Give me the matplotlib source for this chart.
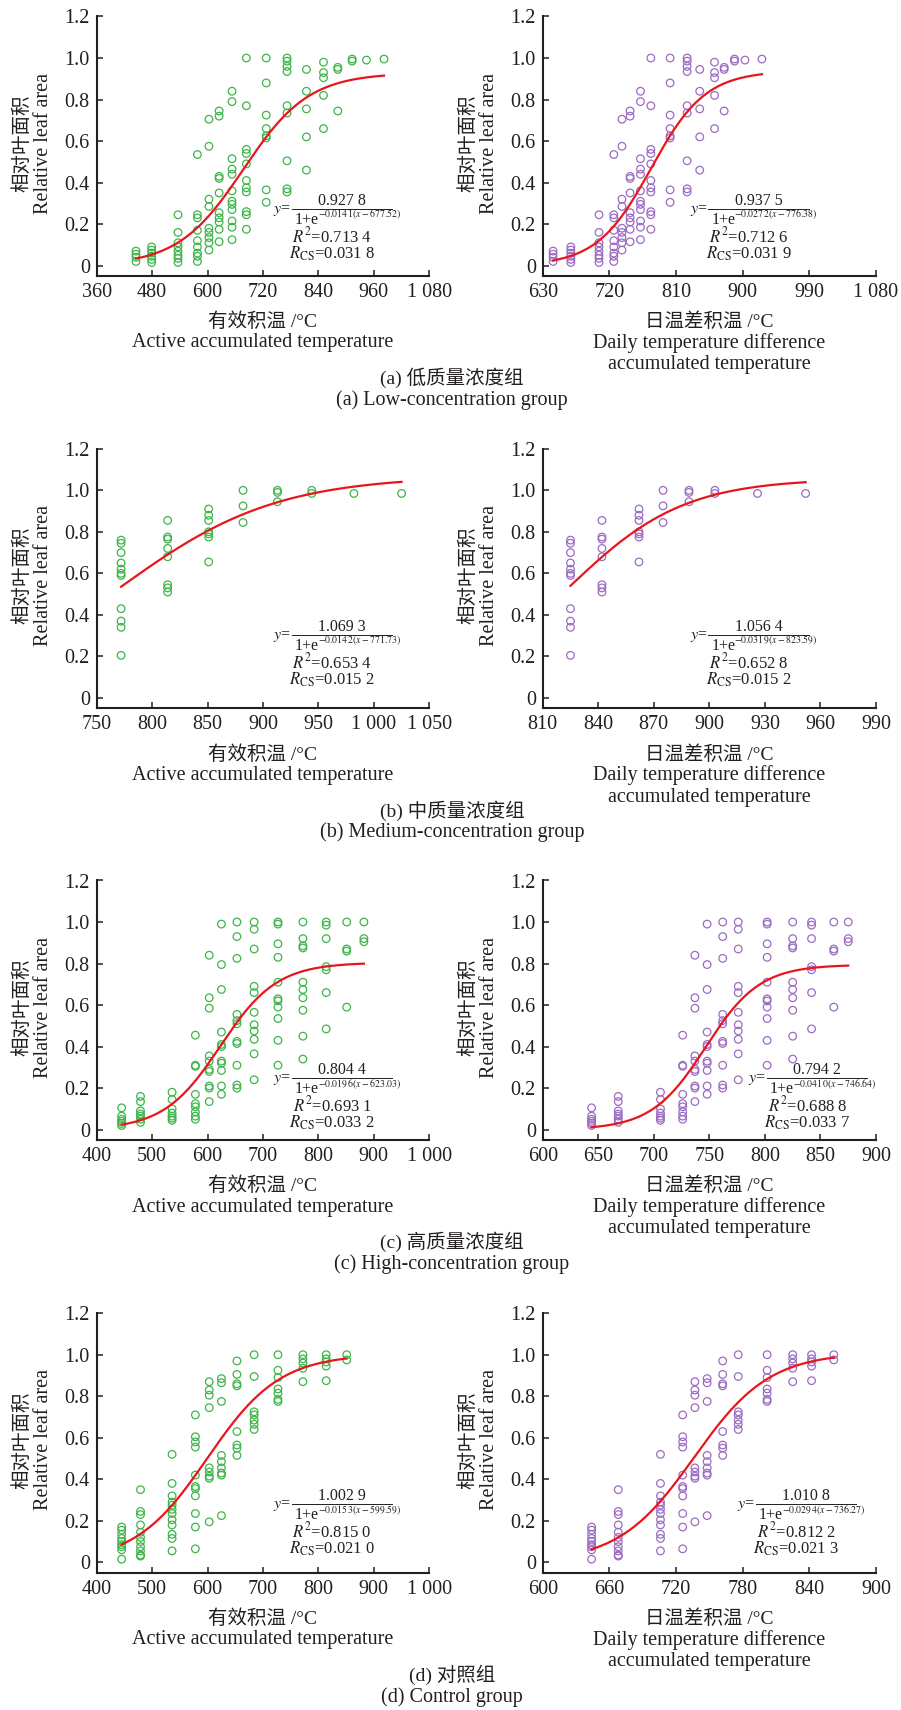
import numpy as np
import matplotlib
matplotlib.use("Agg")
import matplotlib.pyplot as plt
from matplotlib.lines import Line2D

plt.rcParams['font.family'] = ['Liberation Serif', 'Noto Sans CJK SC']
plt.rcParams['mathtext.fontset'] = 'stix'

# ---------------- data ----------------
active_cols = [445, 479, 536, 578, 603, 625, 653, 684, 727, 772, 814, 851, 882, 913, 944, 982, 1025]
diff_cols = [644, 668, 706, 726, 737, 748, 762, 776, 802, 825, 842, 862, 875, 889, 903, 926, 952]

low_y = [
    [0.07, 0.055, 0.04, 0.02],
    [0.09, 0.075, 0.06, 0.045, 0.03, 0.015],
    [0.245, 0.16, 0.11, 0.09, 0.07, 0.05, 0.035, 0.015],
    [0.535, 0.245, 0.23, 0.17, 0.12, 0.09, 0.06, 0.045, 0.02],
    [0.705, 0.575, 0.32, 0.285, 0.18, 0.16, 0.135, 0.11, 0.075],
    [0.745, 0.72, 0.43, 0.42, 0.35, 0.255, 0.23, 0.21, 0.175, 0.115],
    [0.84, 0.79, 0.515, 0.465, 0.44, 0.36, 0.31, 0.295, 0.27, 0.215, 0.185, 0.125],
    [1.0, 0.77, 0.56, 0.54, 0.49, 0.41, 0.375, 0.355, 0.26, 0.245, 0.175],
    [1.0, 0.88, 0.725, 0.66, 0.625, 0.615, 0.365, 0.305],
    [1.0, 0.985, 0.96, 0.935, 0.77, 0.735, 0.505, 0.37, 0.355],
    [0.945, 0.84, 0.755, 0.62, 0.46],
    [0.98, 0.93, 0.905, 0.82, 0.66],
    [0.955, 0.945, 0.745],
    [0.995, 0.985],
    [0.99],
    [0.995],
]
medium_y = [
    [0.76, 0.745, 0.70, 0.65, 0.62, 0.60, 0.59, 0.43, 0.37, 0.34, 0.205],
    [0.855, 0.775, 0.765, 0.72, 0.68, 0.545, 0.53, 0.51],
    [0.91, 0.88, 0.855, 0.80, 0.79, 0.775, 0.655],
    [1.0, 0.925, 0.845],
    [1.0, 0.99, 0.945],
    [1.0, 0.985],
    [0.985],
    [0.985],
]
high_y = [
    [0.105, 0.065, 0.05, 0.04, 0.03, 0.02],
    [0.16, 0.135, 0.09, 0.075, 0.065, 0.05, 0.035],
    [0.18, 0.145, 0.10, 0.08, 0.065, 0.055, 0.045],
    [0.455, 0.31, 0.305, 0.17, 0.125, 0.11, 0.085, 0.065, 0.05],
    [0.84, 0.635, 0.585, 0.355, 0.33, 0.29, 0.28, 0.21, 0.2, 0.135],
    [0.99, 0.795, 0.675, 0.47, 0.41, 0.40, 0.33, 0.32, 0.285, 0.21, 0.17],
    [1.0, 0.93, 0.825, 0.555, 0.525, 0.51, 0.425, 0.415, 0.31, 0.215, 0.2],
    [1.0, 0.965, 0.87, 0.69, 0.66, 0.565, 0.505, 0.475, 0.435, 0.365, 0.24],
    [1.0, 0.99, 0.895, 0.83, 0.71, 0.63, 0.62, 0.59, 0.535, 0.43, 0.31],
    [1.0, 0.92, 0.885, 0.875, 0.71, 0.675, 0.635, 0.575, 0.45, 0.34],
    [1.0, 0.985, 0.92, 0.785, 0.77, 0.66, 0.485],
    [1.0, 0.87, 0.86, 0.59],
    [1.0, 0.92, 0.905],
]
control_y = [
    [0.17, 0.155, 0.135, 0.115, 0.10, 0.085, 0.075, 0.06, 0.015],
    [0.35, 0.245, 0.23, 0.18, 0.145, 0.12, 0.10, 0.075, 0.055, 0.035, 0.03],
    [0.52, 0.38, 0.32, 0.29, 0.275, 0.255, 0.235, 0.205, 0.18, 0.135, 0.115, 0.055],
    [0.71, 0.605, 0.58, 0.555, 0.42, 0.365, 0.355, 0.32, 0.235, 0.17, 0.065],
    [0.87, 0.83, 0.805, 0.745, 0.455, 0.435, 0.415, 0.405, 0.195],
    [0.885, 0.865, 0.775, 0.515, 0.485, 0.455, 0.43, 0.42, 0.225],
    [0.97, 0.905, 0.86, 0.85, 0.63, 0.565, 0.55, 0.515],
    [1.0, 0.895, 0.725, 0.71, 0.685, 0.665, 0.64],
    [1.0, 0.925, 0.89, 0.835, 0.815, 0.785, 0.775],
    [1.0, 0.98, 0.96, 0.935, 0.87],
    [1.0, 0.98, 0.965, 0.945, 0.875],
    [1.0, 0.975],
]
group_y = [low_y, medium_y, high_y, control_y]
group_first_col = [0, 9, 0, 0]

# fit parameters: (A, k, c, R2, RCS, A text, k text, c text)
fit_active = [
    (0.9278, 0.0141, 677.52, "0.713 4", "0.031 8", "0.927 8", "0.014\\,1", "677.52"),
    (1.0693, 0.0142, 771.73, "0.653 4", "0.015 2", "1.069 3", "0.014\\,2", "771.73"),
    (0.8044, 0.0196, 623.03, "0.693 1", "0.033 2", "0.804 4", "0.019\\,6", "623.03"),
    (1.0029, 0.0153, 599.59, "0.815 0", "0.021 0", "1.002 9", "0.015\\,3", "599.59"),
]
fit_diff = [
    (0.9375, 0.0272, 776.38, "0.712 6", "0.031 9", "0.937 5", "0.027\\,2", "776.38"),
    (1.0564, 0.0319, 823.59, "0.652 8", "0.015 2", "1.056 4", "0.031\\,9", "823.59"),
    (0.7942, 0.0410, 746.64, "0.688 8", "0.033 7", "0.794 2", "0.041\\,0", "746.64"),
    (1.0108, 0.0294, 736.27, "0.812 2", "0.021 3", "1.010 8", "0.029\\,4", "736.27"),
]

active_ticks = [list(range(360, 1081, 120)), list(range(750, 1051, 50)),
                list(range(400, 1001, 100)), list(range(400, 1001, 100))]
diff_ticks = [list(range(630, 1081, 90)), list(range(810, 991, 30)),
              list(range(600, 901, 50)), list(range(600, 901, 60))]
yticks = [0, 0.2, 0.4, 0.6, 0.8, 1.0, 1.2]
ytick_labels = ["0", "0.2", "0.4", "0.6", "0.8", "1.0", "1.2"]

captions_cn = ["(a) 低质量浓度组", "(b) 中质量浓度组", "(c) 高质量浓度组", "(d) 对照组"]
captions_en = ["(a) Low-concentration group", "(b) Medium-concentration group",
               "(c) High-concentration group", "(d) Control group"]

# ---------------- layout (pixels) ----------------
W, H = 901, 1710
fig = plt.figure(figsize=(W / 100, H / 100), dpi=100)

def fx(px):
    return px / W

def fy(py):
    return 1 - py / H

row_bottom = [276, 708.3, 1140, 1572.7]
ax_h = 259.5
col_x = [(96.7, 429.3), (542.7, 876.0)]
annot_pos = [
    [(292, 392, 209), (708.3, 809.3, 209)],
    [(291.7, 391.7, 635), (708.3, 809.3, 635)],
    [(291.7, 391.7, 1078.3), (766.7, 867.3, 1078.3)],
    [(291.7, 391.7, 1504.3), (755.7, 856, 1504.3)],
]

GREEN = '#3db54a'
PURPLE = '#9b6cc2'
RED = '#e8161c'
TXT = '#231f20'
AFS = 11.5

def fmt_tick(v):
    if v >= 1000:
        return "%d %03d" % (v // 1000, v % 1000)
    return str(v)

def annotate(xa, xb, yl, p):
    A, k, c, r2, rcs, a_str, k_str, c_str = p
    mid = (xa + xb) / 2
    fig.add_artist(Line2D([fx(xa), fx(xb)], [fy(yl), fy(yl)], transform=fig.transFigure,
                          color=TXT, lw=0.7))
    fig.text(fx(xa - 1), fy(yl + 1), r"$y$=", ha='right', va='center', fontsize=AFS, color=TXT)
    fig.text(fx(mid), fy(yl - 8), a_str, ha='center', va='center', fontsize=AFS, color=TXT)
    fig.text(fx(xa + 3), fy(yl + 10.5), "1+e", ha='left', va='center', fontsize=AFS, color=TXT)
    fig.text(fx(xa + 26), fy(yl + 5.5), r"$-%s(x-%s)$" % (k_str, c_str),
             ha='left', va='center', fontsize=7, color=TXT)
    fig.text(fx(mid - 9.5), fy(yl + 27.5), r"$R^{2}$=" + r2, ha='center', va='center',
             fontsize=12, color=TXT)
    fig.text(fx(mid - 9.5), fy(yl + 44.5), r"$R_{\mathrm{CS}}$=" + rcs, ha='center', va='center',
             fontsize=12, color=TXT)

for r in range(4):
    yb = row_bottom[r]
    ys = group_y[r]
    c0 = group_first_col[r]
    for side in range(2):
        x0, x1 = col_x[side]
        ax = fig.add_axes([fx(x0), fy(yb), (x1 - x0) / W, ax_h / H])
        cols = active_cols if side == 0 else diff_cols
        ticks = active_ticks[r] if side == 0 else diff_ticks[r]
        fit = fit_active[r] if side == 0 else fit_diff[r]
        color = GREEN if side == 0 else PURPLE

        xs_pts, ys_pts = [], []
        for j, colvals in enumerate(ys):
            for v in colvals:
                xs_pts.append(cols[c0 + j])
                ys_pts.append(v)
        ax.scatter(xs_pts, ys_pts, s=30, facecolors='none', edgecolors=color,
                   linewidths=0.9, zorder=2)

        A, k, c = fit[0], fit[1], fit[2]
        xx = np.linspace(cols[c0], cols[c0 + len(ys) - 1], 300)
        ax.plot(xx, A / (1 + np.exp(-k * (xx - c))), color=RED, lw=1.6, zorder=3)

        ax.set_xlim(ticks[0], ticks[-1])
        ax.set_ylim(-0.05, 1.2)
        ax.set_xticks(ticks)
        ax.set_xticklabels([fmt_tick(t) for t in ticks])
        ax.set_yticks(yticks)
        ax.set_yticklabels(ytick_labels)
        for s in ['top', 'right']:
            ax.spines[s].set_visible(False)
        for s in ['left', 'bottom']:
            ax.spines[s].set_linewidth(1.5)
            ax.spines[s].set_color(TXT)
        ax.tick_params(direction='in', length=4.5, width=1.1, labelsize=14.5, colors=TXT)
        ax.tick_params(axis='x', pad=5)
        ax.tick_params(axis='y', pad=5)
        ax.set_facecolor('none')

        cx = (x0 + x1) / 2
        if side == 0:
            fig.text(fx(cx), fy(yb + 46), "有效积温 /°C", ha='center', va='center',
                     fontsize=14, color=TXT)
            fig.text(fx(cx), fy(yb + 67), "Active accumulated temperature", ha='center',
                     va='center', fontsize=14.5, color=TXT)
        else:
            fig.text(fx(cx), fy(yb + 46), "日温差积温 /°C", ha='center', va='center',
                     fontsize=14, color=TXT)
            fig.text(fx(cx), fy(yb + 67), "Daily temperature difference", ha='center',
                     va='center', fontsize=14.5, color=TXT)
            fig.text(fx(cx), fy(yb + 89), "accumulated temperature", ha='center',
                     va='center', fontsize=14.5, color=TXT)
        ymid = yb - ax_h / 2 - 3
        fig.text(fx(x0 - 75), fy(ymid), "相对叶面积", rotation=90, ha='center', va='center',
                 fontsize=14, color=TXT)
        fig.text(fx(x0 - 53.5), fy(ymid), "Relative leaf area", rotation=90, ha='center',
                 va='center', fontsize=14.5, color=TXT)

        xa, xb, yl = annot_pos[r][side]
        annotate(xa, xb, yl, fit)

    fig.text(fx(452), fy(yb + 102), captions_cn[r], ha='center', va='center', fontsize=14, color=TXT)
    fig.text(fx(452), fy(yb + 124), captions_en[r], ha='center', va='center', fontsize=14.5, color=TXT)

fig.savefig("out.png", dpi=100, facecolor='white')
